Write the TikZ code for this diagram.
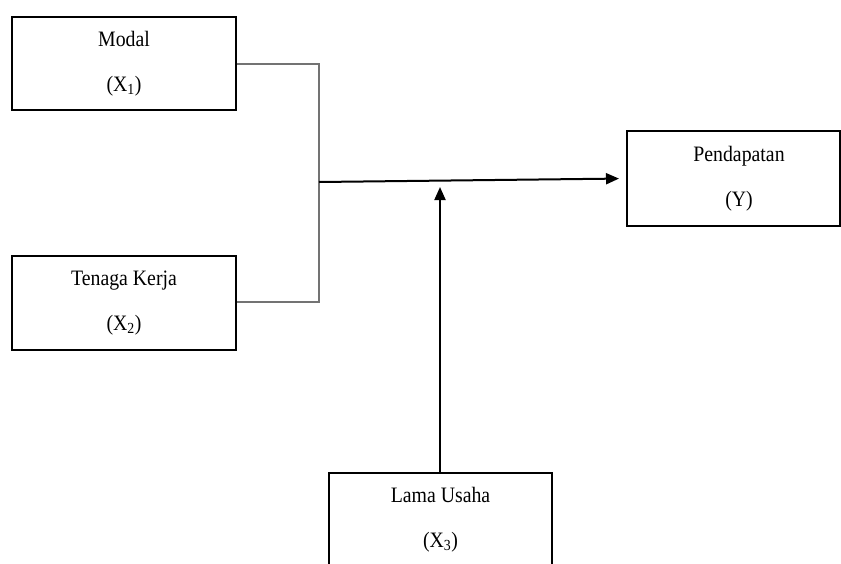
\documentclass[tikz,border=0pt]{standalone}
\usepackage{fontspec}
\setmainfont[FakeStretch=0.9]{Liberation Serif}
\usetikzlibrary{arrows.meta}
\tikzset{
  varbox/.style={draw=black, line width=2pt, rectangle, inner sep=0pt,
    align=center, font=\fontsize{22}{45}\selectfont},
  joinline/.style={draw=black!55, line width=1.3pt},
  flowarrow/.style={draw=black, line width=2pt, -{Triangle[length=13pt,width=11pt]}}
}
\begin{document}
\begin{tikzpicture}[x=1pt,y=-1pt]
\useasboundingbox (0,0) rectangle (841,563);
\clip (0,0) rectangle (841,563);
\node[varbox, minimum width=224pt, minimum height=93pt] (modal) at (124,63.5) {Modal\\(X\textsubscript{1})};
\node[varbox, minimum width=224pt, minimum height=94pt] (tenaga) at (124,303) {Tenaga Kerja\\(X\textsubscript{2})};
\node[varbox, minimum width=213pt, minimum height=95pt] (pend) at (733.5,178.5) {\hspace*{11pt}Pendapatan\\\hspace*{11pt}(Y)};
\node[varbox, minimum width=223pt, minimum height=94pt] (lama) at (440.5,520) {Lama Usaha\\(X\textsubscript{3})};
\coordinate (jtop) at (319,64);
\coordinate (jbot) at (319,302);
\coordinate (jmid) at (319,182);
\coordinate (upend) at (440,187);
\draw[joinline] (modal.east |- jtop) -- (jtop) -- (jbot) -- (tenaga.east |- jbot);
\draw[flowarrow, shorten >=7pt] (jmid) -- (pend.west);
\draw[flowarrow] (lama.north -| upend) -- (upend);
\end{tikzpicture}
\end{document}
